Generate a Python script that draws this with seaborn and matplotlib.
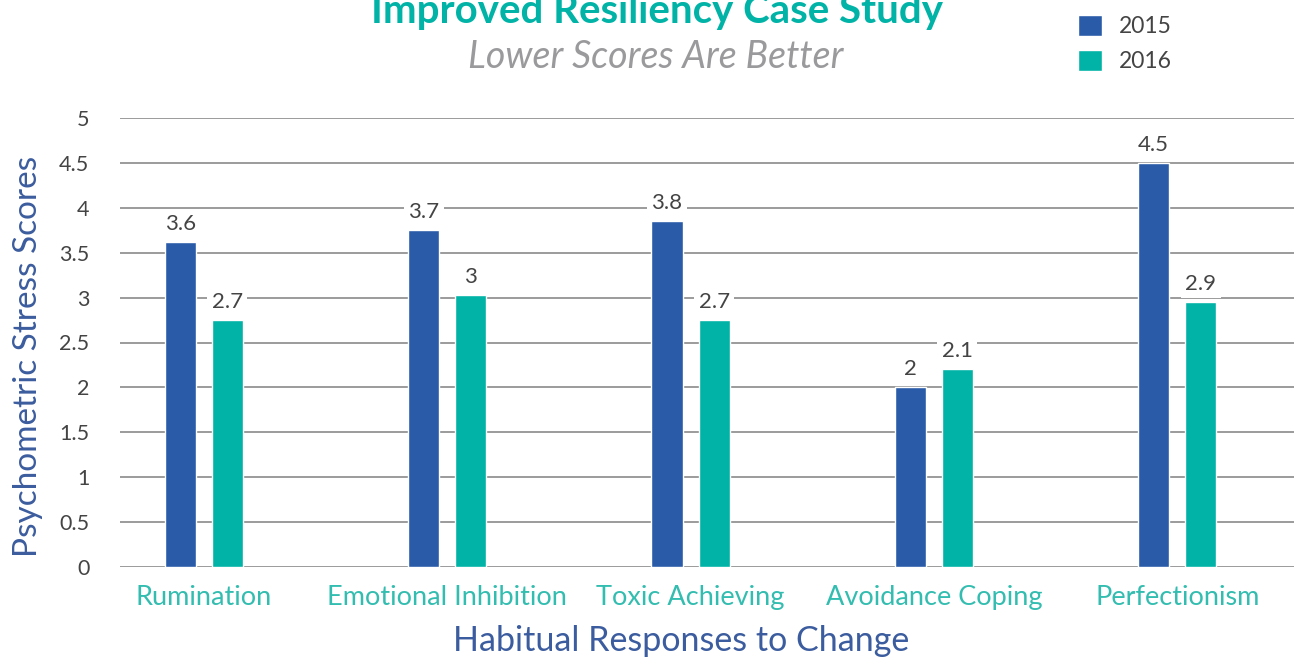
import pandas as pd
import seaborn as sns
import matplotlib.pyplot as plt

# dados
categorias = ['Rumination', 'Emotional Inhibition', 'Toxic Achieving',
              'Avoidance Coping', 'Perfectionism']
anos = ['2015', '2016']
scores_2015 = [3.62, 3.75, 3.85, 2.0, 4.5]
scores_2016 = [2.75, 3.03, 2.75, 2.2, 2.95]
rotulos_2015 = ['3.6', '3.7', '3.8', '2', '4.5']
rotulos_2016 = ['2.7', '3', '2.7', '2.1', '2.9']
yticks = [0, 0.5, 1, 1.5, 2, 2.5, 3, 3.5, 4, 4.5, 5]
ytick_labels = ['0', '0.5', '1', '1.5', '2', '2.5', '3', '3.5', '4', '4.5', '5']

AZUL = '#2A5BA8'
VERDE = '#00B3A6'
VERDE_TXT = '#33BDB0'
AZUL_TXT = '#3B5C9E'
CINZA = '#444444'


def montar_df():
    """Monta o dataframe em formato longo."""
    return pd.DataFrame({
        'categoria': categorias * 2,
        'ano': [anos[0]] * len(categorias) + [anos[1]] * len(categorias),
        'score': scores_2015 + scores_2016,
    })


def criar_grafico(df):
    sns.set_style('white')
    plt.rcParams['font.family'] = ['Lato', 'DejaVu Sans']

    W, H = 1294, 659
    fig = plt.figure(figsize=(W / 100, H / 100), dpi=100)
    ax = fig.add_axes([120 / W, (H - 567) / H, 1174 / W, 449 / H])

    sns.barplot(data=df, x='categoria', y='score', hue='ano',
                palette=[AZUL, VERDE], width=0.387, gap=0.34,
                saturation=1, ax=ax, legend=True)

    ax.set_ylim(0, 5)
    ax.set_xlim(-0.345, 4.48)
    ax.set_yticks(yticks)
    ax.set_yticklabels(ytick_labels)
    ax.yaxis.grid(True, color='#8a8a8a', linewidth=1.2)
    ax.set_axisbelow(True)
    sns.despine(ax=ax, left=True, bottom=True, top=True, right=True)
    ax.tick_params(axis='y', length=0, pad=22, labelsize=15.5, labelcolor=CINZA)
    ax.tick_params(axis='x', length=0, pad=13, labelsize=19.5, labelcolor=VERDE_TXT)

    # rótulos com fundo branco, cortando as linhas de grade
    for cont, rot in zip(ax.containers, [rotulos_2015, rotulos_2016]):
        ax.bar_label(cont, labels=rot, padding=6, fontsize=16, color=CINZA,
                     bbox=dict(boxstyle='square,pad=0.2', fc='white', ec='none'))

    ax.set_xlabel('')
    ax.set_ylabel('')
    fig.text(28 / W, 1 - 356 / H, 'Psychometric Stress Scores', rotation=90,
             ha='center', va='center', fontsize=24, color=AZUL_TXT)

    fig.text(681 / W, 1 - 651 / H, 'Habitual Responses to Change',
             ha='center', va='baseline', fontsize=24.5, color=AZUL_TXT)
    fig.text(657 / W, 1 - 23 / H, 'Improved Resiliency Case Study',
             ha='center', va='baseline', fontsize=29, fontweight='bold', color=VERDE)
    fig.text(656 / W, 1 - 68 / H, 'Lower Scores Are Better',
             ha='center', va='baseline', fontsize=27, style='italic', color='#9a9a9c')

    ax.legend(loc='upper left', bbox_to_anchor=(1057 / W, 1 + 6 / H),
              bbox_transform=fig.transFigure, frameon=False, fontsize=16.5,
              handlelength=1.08, handleheight=1.04, labelspacing=0.55,
              handletextpad=0.7, labelcolor=CINZA)

    fig.savefig('out.png', dpi=100)


def main():
    df = montar_df()
    criar_grafico(df)


if __name__ == '__main__':
    main()
